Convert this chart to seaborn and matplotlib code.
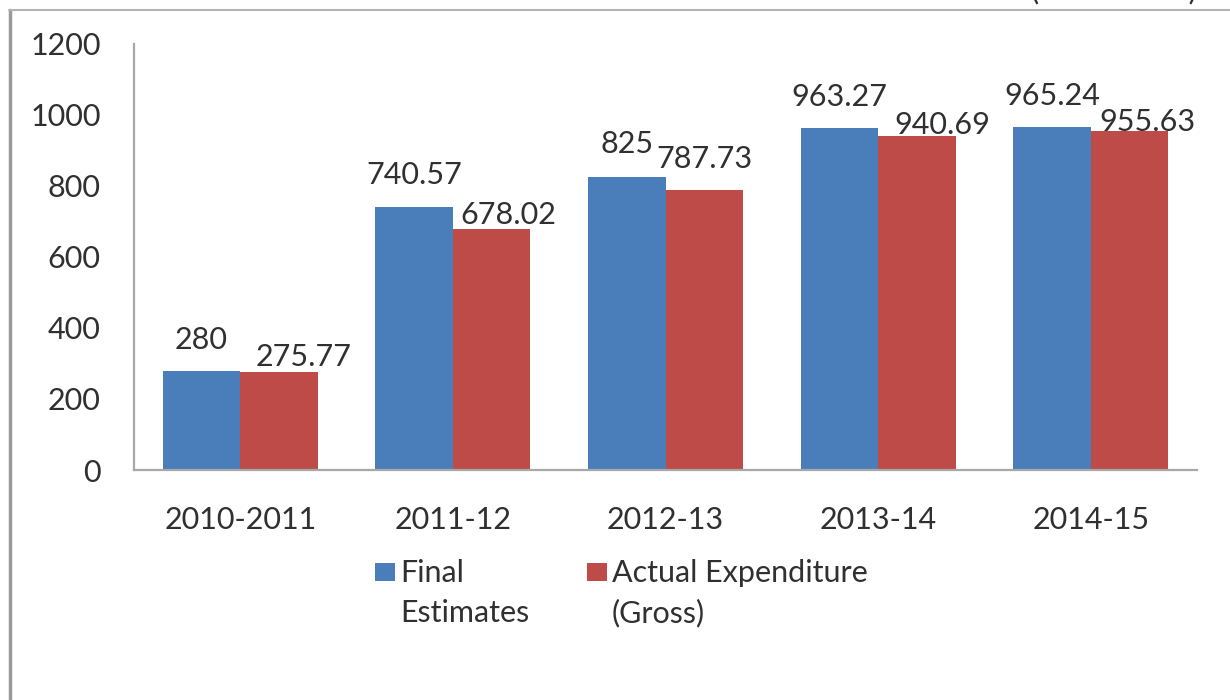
import matplotlib
matplotlib.use("Agg")
import matplotlib.pyplot as plt
import seaborn as sns
import pandas as pd
from matplotlib.patches import Rectangle
from matplotlib.lines import Line2D

# Budget figures per financial year
years = ["2010-2011", "2011-12", "2012-13", "2013-14", "2014-15"]
final_estimates = [280, 740.57, 825, 963.27, 965.24]
actual_expenditure = [275.77, 678.02, 787.73, 940.69, 955.63]
series_names = ["Final Estimates", "Actual Expenditure (Gross)"]
legend_lines = [["Final", "Estimates"], ["Actual Expenditure", "(Gross)"]]
y_ticks = [0, 200, 400, 600, 800, 1000, 1200]

BLUE = "#4A7EBB"
RED = "#BE4B48"
TEXT = "#303030"
FS = 22
W, H = 1230, 700

sns.set_theme(style="white")
plt.rcParams["font.family"] = ["Lato", "DejaVu Sans"]

df = pd.DataFrame({
    "year": years * 2,
    "value": final_estimates + actual_expenditure,
    "series": [series_names[0]] * len(years) + [series_names[1]] * len(years),
})

fig = plt.figure(figsize=(W / 100, H / 100), dpi=100)
fig.patch.set_facecolor("white")
ax = fig.add_axes([134 / W, 1 - 470 / H, (1197 - 134) / W, (470 - 44) / H])

sns.barplot(data=df, x="year", y="value", hue="series", order=years,
            hue_order=series_names, palette=[BLUE, RED], width=0.73,
            saturation=1, errorbar=None, legend=False, linewidth=0, ax=ax)

ax.set_xlim(-0.5, len(years) - 0.5)
ax.set_ylim(0, 1200)
ax.set_yticks(y_ticks)
ax.set_xlabel("")
ax.set_ylabel("")
for side in ("top", "right"):
    ax.spines[side].set_visible(False)
for side in ("left", "bottom"):
    ax.spines[side].set_color("#A8A8A8")
    ax.spines[side].set_linewidth(1.6)
ax.tick_params(axis="y", length=0, pad=24, labelsize=FS, labelcolor=TEXT)
ax.tick_params(axis="x", length=0, pad=26, labelsize=FS, labelcolor=TEXT)

# Value labels above each bar (pixel nudges keep neighbouring labels apart)
label_nudges = [
    [(0, 22), (0, 23), (0, 24), (0, 22), (0, 22)],
    [(25, 6), (17, 5), (0, 22), (25, 2), (18, 0)],
]
for cont, vals, nudges in zip(ax.containers, [final_estimates, actual_expenditure], label_nudges):
    for bar, v, (dx, dy) in zip(cont, vals, nudges):
        ax.annotate(f"{v:g}", (bar.get_x() + bar.get_width() / 2, v),
                    xytext=(dx, dy), textcoords="offset pixels",
                    ha="center", va="baseline", fontsize=FS, color=TEXT)

# Legend below the plot: square swatch beside a two-line label
for color, lines, sx in zip([BLUE, RED], legend_lines, [375, 587]):
    fig.add_artist(Rectangle((sx / W, 1 - 581 / H), 20 / W, 18 / H,
                             transform=fig.transFigure, color=color, lw=0))
    for line, base in zip(lines, [582, 622]):
        fig.text((sx + 25) / W, 1 - base / H, line, ha="left", va="baseline",
                 fontsize=FS, color=TEXT)

# Unit note along the top edge
fig.text(1197 / W, 1 + 1 / H, "(Rs. in crore)", ha="right", va="baseline",
         fontsize=FS, color=TEXT)

# Outer frame lines
fig.add_artist(Line2D([10 / W, 10 / W], [0, 1 - 10 / H], transform=fig.transFigure,
                      color="#9A9A9A", lw=2.5))
fig.add_artist(Line2D([9 / W, 1], [1 - 10 / H, 1 - 10 / H], transform=fig.transFigure,
                      color="#B4B4B4", lw=1.5))

fig.savefig("out.png", dpi=100)
